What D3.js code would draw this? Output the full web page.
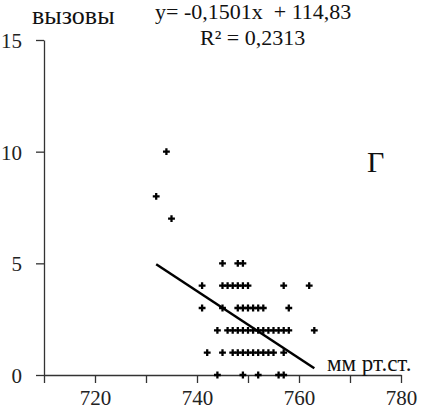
<!DOCTYPE html>
<html><head><meta charset="utf-8">
<script src="https://cdnjs.cloudflare.com/ajax/libs/d3/7.8.5/d3.min.js"></script>
<style>body{margin:0;background:#fff}svg{display:block}</style>
</head><body><svg id="c" width="435" height="411"></svg>
<script>
const pressure = [734,732,735,
 745,748,749,
 741,745,746,747,748,749,750,757,762,
 741,745,748,749,750,751,752,753,758,
 744,746,747,748,749,750,751,752,753,754,755,756,757,758,763,
 742,745,747,748,749,750,751,752,753,754,755,757,
 744,749,752,756,757];
const calls = [10,8,7,
 5,5,5,
 4,4,4,4,4,4,4,4,4,
 3,3,3,3,3,3,3,3,3,
 2,2,2,2,2,2,2,2,2,2,2,2,2,2,2,
 1,1,1,1,1,1,1,1,1,1,1,1,
 0,0,0,0,0];
const slope = -0.1501, intercept = 114.83;
const xTicks = [710,720,730,740,750,760,770,780];
const xLabels = [720,740,760,780];
const yTicks = [0,5,10,15];

const FONT = 'Liberation Serif';
const svg = d3.select('#c');
const x = d3.scaleLinear().domain([710,780]).range([44,401]);
const y = d3.scaleLinear().domain([0,15]).range([375,40]);

const gy = svg.append('g').attr('transform','translate(44,0)')
  .call(d3.axisLeft(y).tickValues(yTicks).tickSize(8).tickSizeOuter(0).tickPadding(14));
const gx = svg.append('g').attr('transform','translate(0,375)')
  .call(d3.axisBottom(x).tickValues(xTicks).tickSize(8).tickSizeOuter(0).tickPadding(5)
    .tickFormat(d => xLabels.includes(d) ? d : ''));
[gx,gy].forEach(g=>{
  g.attr('font-family',FONT);
  g.select('.domain').attr('stroke','#333').attr('stroke-width',1.3);
  g.selectAll('.tick line').attr('stroke','#333').attr('stroke-width',1.3);
  g.selectAll('text').attr('font-size',21).attr('fill','#222').style('font-family',FONT);
});
gy.selectAll('text').attr('dy','0.35em');
gx.selectAll('text').attr('dy','0.8em');

const xs = d3.extent(pressure);
svg.append('line')
  .attr('x1',x(xs[0])).attr('y1',y(slope*xs[0]+intercept))
  .attr('x2',x(xs[1])).attr('y2',y(slope*xs[1]+intercept))
  .attr('stroke','#000').attr('stroke-width',2.5);

svg.append('g').selectAll('path').data(pressure).join('path')
  .attr('transform',(d,i)=>`translate(${x(d)},${y(calls[i])})`)
  .attr('d',d3.symbol(d3.symbolCross,26))
  .attr('fill','#000');

const txt = (s,xx,yy,size,anchor='start')=>svg.append('text').text(s)
  .attr('x',xx).attr('y',yy).attr('font-size',size).style('font-family',FONT)
  .attr('text-anchor',anchor).attr('fill','#111');
txt('вызовы',32,24,26);
txt('y= -0,1501x  + 114,83',155,19,22).style('white-space','pre');
txt('R² = 0,2313',200,45,22);
txt('Г',367,172,30);
txt('мм рт.ст.',327,371,23);
</script></body></html>
